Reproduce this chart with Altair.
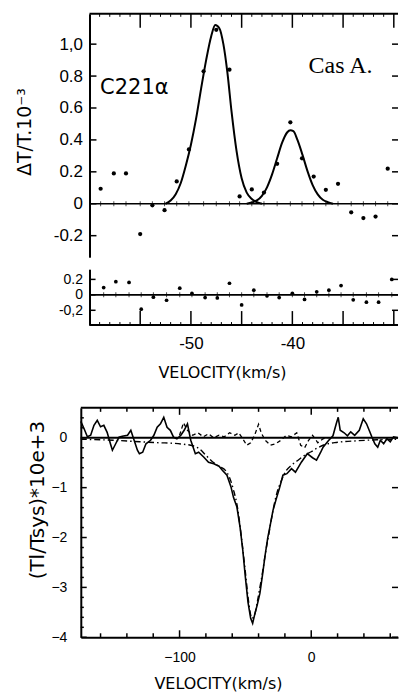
import altair as alt
import pandas as pd

# ---------------- upper figure: C221alpha towards Cas A ----------------
# observed channels (km/s, dT/T in 1e-3)
obs_v = [-58.9, -57.6, -56.4, -55.0, -53.8, -52.6, -51.4, -50.2, -48.75, -47.5, -46.2, -45.2,
         -44.0, -42.8, -41.5, -40.2, -39.05, -37.9, -36.7, -35.5, -34.2, -33.0, -31.8, -30.6]
obs_t = [0.094, 0.19, 0.19, -0.19, -0.01, -0.04, 0.14, 0.34, 0.83, 1.09, 0.84, 0.046,
         0.09, 0.07, 0.25, 0.51, 0.285, 0.17, 0.087, 0.125, -0.054, -0.09, -0.08, 0.22]

# fitted gaussian components
fit1_v = [-52.5, -52.0, -51.5, -51.0, -50.5, -50.0, -49.5, -49.0, -48.5, -48.0, -47.6,
          -47.2, -46.8, -46.4, -46.0, -45.5, -45.0, -44.5, -44.0, -43.5, -43.0]
fit1_t = [0.0, 0.02, 0.06, 0.13, 0.24, 0.37, 0.53, 0.72, 0.90, 1.05, 1.12,
          1.10, 1.00, 0.82, 0.58, 0.33, 0.16, 0.07, 0.03, 0.01, 0.0]
fit2_v = [-44.5, -44.0, -43.5, -43.0, -42.5, -42.0, -41.5, -41.0, -40.5, -40.2,
          -39.9, -39.5, -39.0, -38.5, -38.0, -37.5, -37.0, -36.5, -36.0]
fit2_t = [0.0, 0.008, 0.021, 0.05, 0.103, 0.184, 0.285, 0.384, 0.448, 0.46,
          0.455, 0.40, 0.306, 0.203, 0.117, 0.059, 0.025, 0.01, 0.0]

# residuals
res_v = [-58.6, -57.4, -56.1, -54.9, -53.7, -52.4, -51.1, -49.9, -48.6, -47.4, -46.2, -45.0,
         -43.8, -42.5, -41.3, -40.0, -38.8, -37.6, -36.4, -35.2, -34.0, -32.7, -31.5, -30.2]
res_r = [0.094, 0.17, 0.16, -0.185, -0.03, -0.07, 0.086, 0.02, -0.035, -0.04, 0.15, -0.13,
         0.06, -0.013, -0.035, 0.02, -0.06, 0.04, 0.06, 0.12, -0.065, -0.095, -0.095, 0.2]

# ---------------- lower figure: absorption profile ----------------
spec_v = [-175, -172.5, -170, -167.5, -165, -162.5, -160, -157.5, -155, -152.5, -151, -148.5,
          -146, -143.5, -139.5, -137, -134.5, -132, -130.5, -128, -125.5, -122, -119.5, -117,
          -114.5, -112, -109.5, -107, -104.5, -102, -99, -96.5, -94, -91.5, -88, -85.5, -81.5,
          -78, -74, -70, -67.5, -64, -61, -59, -56.5, -54, -52, -50, -48, -46, -44.5, -43, -41,
          -39, -37, -35, -33, -31.5, -29, -26.5, -24, -21.5, -18.5, -15, -12, -7.5, -3, 1, 4,
          7, 9, 13, 16.5, 19, 20.5, 22, 25, 27.5, 30, 33, 36.5, 39.5, 42, 44, 46, 48.3, 50.5,
          52.5, 55, 57.5, 60, 62.5, 65.9]
spec_t = [0.33, 0.18, 0.02, 0.05, 0.25, 0.35, 0.22, 0.25, 0.11, -0.12, -0.25, -0.12,
          0.01, 0.03, 0.05, 0.15, -0.05, -0.25, -0.32, -0.29, -0.12, -0.05, 0.05, 0.21,
          0.28, 0.41, 0.21, 0.15, 0.01, -0.02, 0.05, 0.15, 0.28, -0.05, -0.32, -0.29, -0.39,
          -0.49, -0.52, -0.57, -0.65, -0.75, -0.98, -1.2, -1.38, -1.80, -2.25, -2.80, -3.30,
          -3.62, -3.72, -3.55, -3.35, -3.12, -2.75, -2.35, -2.00, -1.80, -1.45, -1.22, -1.00,
          -0.75, -0.72, -0.62, -0.69, -0.49, -0.32, -0.40, -0.45, -0.30, -0.19, -0.06, 0.04,
          0.28, 0.41, 0.15, 0.10, 0.04, 0.12, 0.05, 0.15, 0.38, 0.28, 0.15, 0.02, -0.12,
          -0.19, -0.05, -0.12, -0.02, -0.08, 0.02, 0.0]

model_v = [-175, -150, -130, -115, -105, -97, -90, -85, -80, -75, -70, -65, -62, -59, -56,
           -53, -50, -47.5, -45, -43, -41, -39, -37, -35, -32, -29, -26, -23, -20, -15, -10,
           -5, 0, 5, 10, 20, 35, 50, 65.9]
model_t = [-0.03, -0.05, -0.08, -0.10, -0.11, -0.13, -0.16, -0.22, -0.35, -0.48, -0.57,
           -0.66, -0.80, -1.05, -1.40, -2.00, -2.70, -3.30, -3.62, -3.55, -3.30, -3.00, -2.70,
           -2.35, -1.90, -1.45, -1.10, -0.88, -0.70, -0.55, -0.45, -0.35, -0.28, -0.20, -0.14,
           -0.09, -0.06, -0.04, -0.03]

diff_v = [-100, -97, -94, -90, -86, -82, -78, -74, -70, -66, -62, -58, -55, -52, -49, -46,
          -43, -40, -38, -35, -31, -27, -23, -19, -15, -11, -8, -5, -2, 1, 5, 9, 13]
diff_t = [0.05, 0.30, 0.15, 0.05, 0.10, 0.02, 0.08, 0.0, 0.05, 0.02, 0.10, 0.05, 0.10,
          -0.02, -0.15, -0.10, 0.05, 0.27, 0.10, -0.05, -0.15, -0.12, -0.05, 0.05, 0.02,
          0.10, -0.15, -0.20, -0.05, 0.05, -0.10, -0.02, 0.0]

# tick positions
top_y_ticks = [1.0, 0.8, 0.6, 0.4, 0.2, 0.0, -0.2]
res_y_ticks = [0.2, 0.0, -0.2]
top_x_major = [-55, -50, -45, -40, -35, -30]
top_x_minor = [-59, -58, -57, -56, -54, -53, -52, -51, -49, -48, -47, -46, -44, -43, -42,
               -41, -39, -38, -37, -36, -34, -33, -32, -31]
top_x_labels = [-50, -40]
bot_x_major = [-100, 0]
bot_x_minor = [-160, -140, -120, -80, -60, -40, -20, 20, 40, 60]
bot_y_major = [0, -1, -2, -3, -4]
bot_y_minor = [0.4, 0.2, -0.2, -0.4, -0.6, -0.8, -1.2, -1.4, -1.6, -1.8, -2.2, -2.4, -2.6,
               -2.8, -3.2, -3.4, -3.6, -3.8]

# ---------------- layout constants ----------------
W = 318
H_TOP, H_RES, H_GAP, H_BOT = 244, 56, 59, 230
V_EDGE = -60.0

TOP_X = alt.Scale(domain=[-60.855, -29.586], nice=False, zero=False)
TOP_Y = alt.Scale(domain=[-0.335, 1.19], nice=False, zero=False)
RES_Y = alt.Scale(domain=[-0.391, 0.332], nice=False, zero=False)
BOT_X = alt.Scale(domain=[-175, 65.9], nice=False, zero=False)
BOT_Y = alt.Scale(domain=[-4, 0.6], nice=False, zero=False)

NUM = "Liberation Sans"
TXT = "DejaVu Sans"
K = "black"

ax_top_y = alt.Axis(values=top_y_ticks, offset=-8.7, ticks=False, domainWidth=2, domainColor=K,
                    grid=False, labelFont=NUM, labelFontSize=17, labelColor=K, labelPadding=7,
                    labelFlush=False, labelOverlap=False,
                    labelExpr="datum.value == 0 ? '0' : datum.value == 1 ? '1,0' : (datum.value < 0 ? '-' : '') + format(abs(datum.value), '.1f')",
                    title="ΔT/T.10⁻³", titleFont=TXT, titleFontSize=19, titleFontWeight="normal",
                    titleColor=K, titleAngle=270, titleX=-65, titleY=118, titleAlign="center",
                    titleBaseline="middle")
ax_res_y = alt.Axis(values=res_y_ticks, offset=-8.7, ticks=False, domainWidth=2, domainColor=K,
                    grid=False, labelFont=NUM, labelFontSize=14, labelColor=K, labelPadding=7,
                    labelFlush=False, labelOverlap=False,
                    labelExpr="datum.value == 0 ? '0' : datum.value < 0 ? '-0,2' : '0.2'",
                    title=None)
ax_res_x = alt.Axis(values=top_x_labels, orient="bottom", domain=False, ticks=False, grid=False,
                    labelFont=NUM, labelFontSize=17, labelColor=K, labelPadding=11,
                    labelFlush=False, labelExpr="'-' + format(abs(datum.value), 'd')",
                    title="VELOCITY(km/s)", titleFont=TXT, titleFontSize=16,
                    titleFontWeight="normal", titleColor=K, titleX=141.5, titleY=47.5,
                    titleAlign="center", titleBaseline="middle")
ax_bot_y = alt.Axis(values=bot_y_major, ticks=False, domainWidth=2, domainColor=K, grid=False,
                    labelFont=NUM, labelFontSize=14, labelColor=K, labelPadding=14,
                    labelFlush=False, labelOverlap=False,
                    labelExpr="datum.value == 0 ? '0' : '−' + format(abs(datum.value), 'd')",
                    title="(Tl/Tsys)*10e+3", titleFont=TXT, titleFontSize=20,
                    titleFontWeight="normal", titleColor=K, titleAngle=270, titleX=-43.5,
                    titleY=92, titleAlign="center", titleBaseline="middle")
ax_bot_x = alt.Axis(values=bot_x_major, orient="bottom", ticks=False, domainWidth=2,
                    domainColor=K, grid=False, labelFont=NUM, labelFontSize=14, labelColor=K,
                    labelPadding=13, labelFlush=False,
                    labelExpr="datum.value == 0 ? '0' : '−' + format(abs(datum.value), 'd')",
                    title="VELOCITY(km/s)", titleFont=TXT, titleFontSize=16,
                    titleFontWeight="normal", titleColor=K, titleX=137.5, titleY=46,
                    titleAlign="center", titleBaseline="middle")


def X(field, scale, axis=None):
    return alt.X(field, type="quantitative", scale=scale, axis=axis)


def Y(field, scale, axis=None):
    return alt.Y(field, type="quantitative", scale=scale, axis=axis)


def df(**cols):
    return pd.DataFrame(cols)


# ---------------- upper main panel ----------------
top_layers = [
    alt.Chart(df(v=[V_EDGE])).mark_rule(color=K, strokeWidth=2).encode(
        x=X("v", TOP_X), x2=alt.value(W), y=alt.value(0)),
    alt.Chart(df(v=top_x_major)).mark_rule(color=K, strokeWidth=1.5).encode(
        x=X("v", TOP_X), y=alt.value(0), y2=alt.value(14)),
    alt.Chart(df(v=top_x_minor)).mark_rule(color=K, strokeWidth=1).encode(
        x=X("v", TOP_X), y=alt.value(0), y2=alt.value(3)),
    alt.Chart(df(t=top_y_ticks, v=[V_EDGE] * 7, v2=[V_EDGE + 0.69] * 7)).mark_rule(
        color=K, strokeWidth=1.5).encode(
        x=X("v", TOP_X), x2="v2", y=Y("t", TOP_Y, ax_top_y)),
    alt.Chart(df(t=top_y_ticks)).mark_rule(color=K, strokeWidth=1.5).encode(
        x=alt.value(W), x2=alt.value(W - 6), y=Y("t", TOP_Y, ax_top_y)),
    alt.Chart(df(v=[V_EDGE], t=[0.0])).mark_rule(color=K, strokeWidth=1.6).encode(
        x=X("v", TOP_X), x2=alt.value(W), y=Y("t", TOP_Y, ax_top_y)),
    alt.Chart(df(v=obs_v, t=[0.0] * len(obs_v))).mark_tick(
        color=K, orient="vertical", size=5, thickness=1).encode(
        x=X("v", TOP_X), y=Y("t", TOP_Y, ax_top_y)),
    alt.Chart(df(v=fit1_v, t=fit1_t)).mark_line(
        color=K, strokeWidth=2, interpolate="monotone").encode(
        x=X("v", TOP_X), y=Y("t", TOP_Y, ax_top_y)),
    alt.Chart(df(v=fit2_v, t=fit2_t)).mark_line(
        color=K, strokeWidth=2, interpolate="monotone").encode(
        x=X("v", TOP_X), y=Y("t", TOP_Y, ax_top_y)),
    alt.Chart(df(v=obs_v, t=obs_t)).mark_circle(color=K, size=18, opacity=1).encode(
        x=X("v", TOP_X), y=Y("t", TOP_Y, ax_top_y)),
    alt.Chart(df(v=[-58.95], t=[0.727], s=["C221α"])).mark_text(
        font=TXT, fontSize=21, color=K, align="left", baseline="middle").encode(
        x=X("v", TOP_X), y=Y("t", TOP_Y, ax_top_y), text="s:N"),
    alt.Chart(df(v=[-38.4], t=[0.86], s=["Cas A."])).mark_text(
        font="Liberation Serif", fontSize=24, color=K, align="left", baseline="middle").encode(
        x=X("v", TOP_X), y=Y("t", TOP_Y, ax_top_y), text="s:N"),
]
top = alt.layer(*top_layers).properties(width=W, height=H_TOP)

# ---------------- residual panel ----------------
res_layers = [
    alt.Chart(df(v=[V_EDGE])).mark_rule(color=K, strokeWidth=2).encode(
        x=X("v", TOP_X, ax_res_x), x2=alt.value(W), y=alt.value(H_RES)),
    alt.Chart(df(v=top_x_major)).mark_rule(color=K, strokeWidth=1.5).encode(
        x=X("v", TOP_X, ax_res_x), y=alt.value(H_RES), y2=alt.value(H_RES - 14)),
    alt.Chart(df(v=top_x_minor)).mark_rule(color=K, strokeWidth=1).encode(
        x=X("v", TOP_X, ax_res_x), y=alt.value(H_RES), y2=alt.value(H_RES - 3)),
    alt.Chart(df(t=res_y_ticks, v=[V_EDGE] * 3, v2=[V_EDGE + 0.6] * 3)).mark_rule(
        color=K, strokeWidth=1.5).encode(
        x=X("v", TOP_X, ax_res_x), x2="v2", y=Y("t", RES_Y, ax_res_y)),
    alt.Chart(df(t=res_y_ticks)).mark_rule(color=K, strokeWidth=1.5).encode(
        x=alt.value(W), x2=alt.value(W - 6), y=Y("t", RES_Y, ax_res_y)),
    alt.Chart(df(v=[V_EDGE], t=[0.0])).mark_rule(color=K, strokeWidth=1.6).encode(
        x=X("v", TOP_X, ax_res_x), x2=alt.value(W), y=Y("t", RES_Y, ax_res_y)),
    alt.Chart(df(v=res_v, t=[0.0] * len(res_v))).mark_tick(
        color=K, orient="vertical", size=5, thickness=1).encode(
        x=X("v", TOP_X, ax_res_x), y=Y("t", RES_Y, ax_res_y)),
    alt.Chart(df(v=res_v, t=res_r)).mark_circle(color=K, size=14, opacity=1).encode(
        x=X("v", TOP_X, ax_res_x), y=Y("t", RES_Y, ax_res_y)),
]
res = alt.layer(*res_layers).properties(width=W, height=H_RES)

# ---------------- spacer ----------------
gap = alt.Chart(df(a=[0])).mark_point(opacity=0).encode(
    x=alt.X("a:Q", axis=None), y=alt.Y("a:Q", axis=None)).properties(width=W, height=H_GAP)

# ---------------- lower panel ----------------
bot_layers = [
    alt.Chart(df(a=[0])).mark_rule(color=K, strokeWidth=2).encode(
        x=alt.value(0), x2=alt.value(W), y=alt.value(0)),
    alt.Chart(df(v=bot_x_major)).mark_rule(color=K, strokeWidth=1.5).encode(
        x=X("v", BOT_X, ax_bot_x), y=alt.value(0), y2=alt.value(7)),
    alt.Chart(df(v=bot_x_minor)).mark_rule(color=K, strokeWidth=1.5).encode(
        x=X("v", BOT_X, ax_bot_x), y=alt.value(0), y2=alt.value(4)),
    alt.Chart(df(v=bot_x_major)).mark_rule(color=K, strokeWidth=1.5).encode(
        x=X("v", BOT_X, ax_bot_x), y=alt.value(H_BOT), y2=alt.value(H_BOT - 7)),
    alt.Chart(df(v=bot_x_minor)).mark_rule(color=K, strokeWidth=1.5).encode(
        x=X("v", BOT_X, ax_bot_x), y=alt.value(H_BOT), y2=alt.value(H_BOT - 4)),
    alt.Chart(df(t=bot_y_major, v=[-175] * 5, v2=[-170.5] * 5)).mark_rule(
        color=K, strokeWidth=1.5).encode(
        x=X("v", BOT_X, ax_bot_x), x2="v2", y=Y("t", BOT_Y, ax_bot_y)),
    alt.Chart(df(t=bot_y_minor, v=[-175] * len(bot_y_minor),
                 v2=[-172.7] * len(bot_y_minor))).mark_rule(color=K, strokeWidth=1.5).encode(
        x=X("v", BOT_X, ax_bot_x), x2="v2", y=Y("t", BOT_Y, ax_bot_y)),
    alt.Chart(df(t=bot_y_major)).mark_rule(color=K, strokeWidth=1.5).encode(
        x=alt.value(W), x2=alt.value(W - 6), y=Y("t", BOT_Y, ax_bot_y)),
    alt.Chart(df(t=[0.0])).mark_rule(color=K, strokeWidth=2).encode(
        x=alt.value(0), x2=alt.value(W), y=Y("t", BOT_Y, ax_bot_y)),
    alt.Chart(df(v=model_v, t=model_t)).mark_line(
        color=K, strokeWidth=1.4, strokeDash=[6, 3, 1.5, 3], interpolate="monotone").encode(
        x=X("v", BOT_X, ax_bot_x), y=Y("t", BOT_Y, ax_bot_y)),
    alt.Chart(df(v=diff_v, t=diff_t)).mark_line(
        color=K, strokeWidth=1.3, strokeDash=[4, 3]).encode(
        x=X("v", BOT_X, ax_bot_x), y=Y("t", BOT_Y, ax_bot_y)),
    alt.Chart(df(v=spec_v, t=spec_t)).mark_line(color=K, strokeWidth=1.6).encode(
        x=X("v", BOT_X, ax_bot_x), y=Y("t", BOT_Y, ax_bot_y)),
]
bot = alt.layer(*bot_layers).properties(width=W, height=H_BOT)

chart = alt.vconcat(top, res, gap, bot, spacing=12, bounds="flush").properties(
    padding={"left": 15, "top": 12, "right": 0, "bottom": 0},
    background="white",
).configure_view(stroke=None)

chart.save("out.html", embed_options={"renderer": "svg", "actions": False})
